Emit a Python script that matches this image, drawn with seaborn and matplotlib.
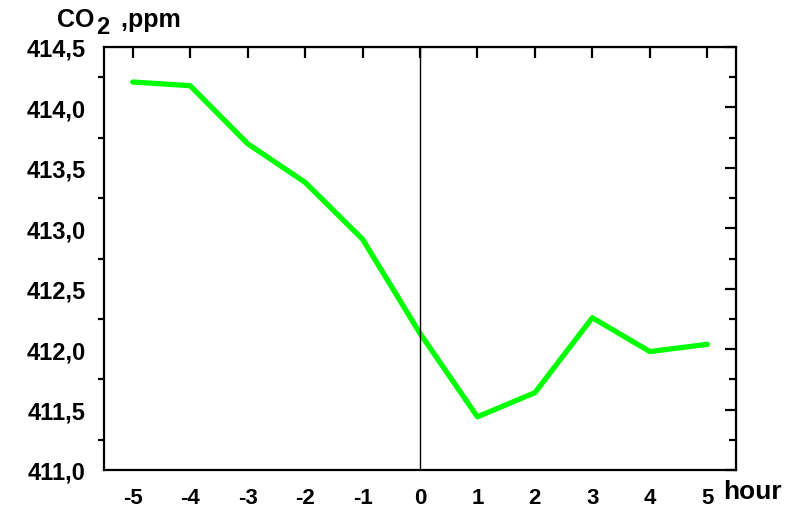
import numpy as np
import pandas as pd
import matplotlib
matplotlib.use("Agg")
import matplotlib.pyplot as plt
import seaborn as sns
from matplotlib.ticker import FuncFormatter, MultipleLocator

# values
hours = [-5, -4, -3, -2, -1, 0, 1, 2, 3, 4, 5]
co2_ppm = [414.21, 414.18, 413.70, 413.38, 412.91, 412.13, 411.44, 411.64, 412.26, 411.98, 412.04]
y_ticks = [411.0, 411.5, 412.0, 412.5, 413.0, 413.5, 414.0, 414.5]

df = pd.DataFrame({"hour": hours, "co2": co2_ppm})

sns.set_style("white")
plt.rcParams['font.family'] = ['Liberation Sans', 'DejaVu Sans']
plt.rcParams['axes.unicode_minus'] = False
plt.rcParams['text.color'] = 'black'
plt.rcParams['xtick.color'] = 'black'
plt.rcParams['ytick.color'] = 'black'

fig = plt.figure(figsize=(8.02, 5.10), dpi=100)
ax = fig.add_axes([104 / 802, 1 - 471 / 510, 632 / 802, 423 / 510])

sns.lineplot(data=df, x="hour", y="co2", color="#00ff00", linewidth=3.8, ax=ax)
ax.axvline(0, color="black", linewidth=1.0)

ax.set_xlim(-5.5, 5.5)
ax.set_ylim(411.0, 414.5)
ax.set_xticks(hours)
ax.set_yticks(y_ticks)
ax.yaxis.set_minor_locator(MultipleLocator(0.25))
ax.yaxis.set_major_formatter(FuncFormatter(lambda v, p: f"{v:.1f}".replace(".", ",")))
ax.set_xlabel("")
ax.set_ylabel("")

for s in ax.spines.values():
    s.set_linewidth(1.6)
    s.set_color("black")

ax.tick_params(axis="both", which="major", direction="out", length=8, width=1.6,
               labelsize=17, colors="black")
ax.tick_params(axis="x", which="major", labelsize=16, pad=4)
ax.tick_params(axis="y", which="major", pad=5)
ax.tick_params(axis="y", which="minor", direction="out", length=4, width=1.6, left=True)
for lab in ax.get_xticklabels() + ax.get_yticklabels():
    lab.set_fontweight("bold")

# inward ticks on top and right
top = ax.secondary_xaxis("top")
top.set_xticks(hours)
top.tick_params(direction="in", length=8, width=1.6, labeltop=False)
right = ax.secondary_yaxis("right")
right.set_yticks(y_ticks)
right.yaxis.set_minor_locator(MultipleLocator(0.25))
right.tick_params(which="major", direction="in", length=8, width=1.6, labelright=False)
right.tick_params(which="minor", direction="in", length=5, width=1.6)

# axis titles: "CO2 ,ppm" with a big lowered 2, and "hour"
t1 = fig.text(57 / 802, 1 - 27 / 510, "CO", fontsize=18, fontweight="bold",
              ha="left", va="baseline")
ax.annotate("2", xy=(1, 0), xycoords=t1, xytext=(1, -5), textcoords="offset points",
            fontsize=17, fontweight="bold", ha="left", va="bottom",
            annotation_clip=False)
ax.annotate(" ,ppm", xy=(1, 0), xycoords=t1, xytext=(14, 0), textcoords="offset points",
            fontsize=18, fontweight="bold", ha="left", va="bottom", annotation_clip=False)
fig.text(723 / 802, 1 - 499 / 510, "hour", fontsize=19, fontweight="bold",
         ha="left", va="baseline")

fig.savefig("out.png", dpi=100)
